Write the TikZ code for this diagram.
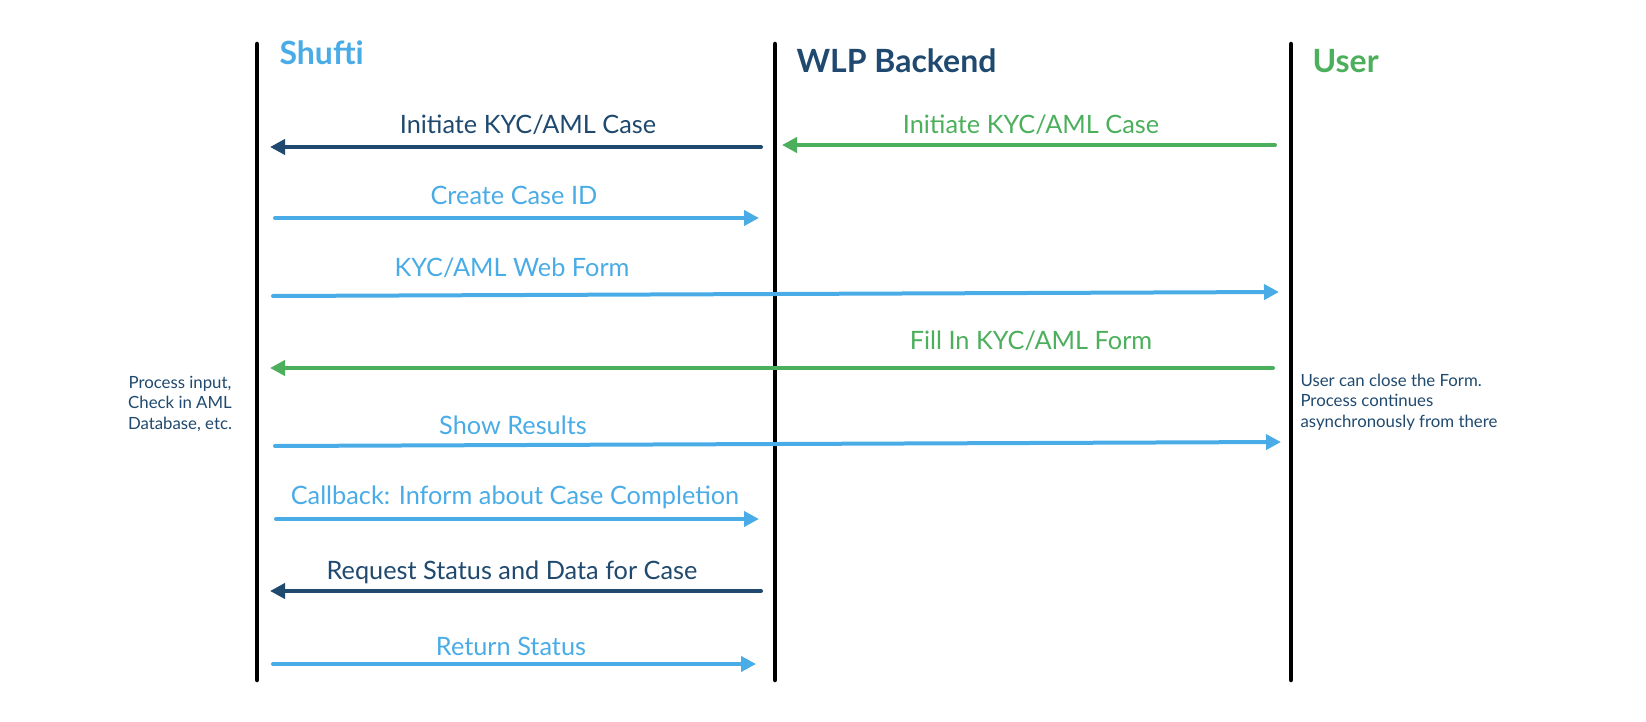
\documentclass[tikz,border=0pt]{standalone}
\usepackage{fontspec}
\setmainfont{Lato}
\usetikzlibrary{arrows.meta}
\definecolor{navy}{RGB}{31,73,110}
\definecolor{sky}{RGB}{74,172,230}
\definecolor{leaf}{RGB}{76,175,92}

\begin{document}
\begin{tikzpicture}[x=1pt, y=-1pt,
  lifeline/.style={line width=4.5pt, line cap=round},
  msg/.style={-{Triangle[length=15pt,width=15pt]}, line width=4pt, line cap=round},
  msglabel/.style={font=\fontsize{25.3}{29}\selectfont},
  header/.style={anchor=west, font=\fontsize{32}{36}\selectfont\bfseries},
  note/.style={text=navy, font=\fontsize{16.8}{20.5}\selectfont}]
\path[use as bounding box] (0,0) rectangle (1646,722);
% lifelines
\coordinate (shuftiTop) at (257,44);
\coordinate (shuftiEnd) at (257,680);
\coordinate (wlpTop) at (775,44);
\coordinate (wlpEnd) at (775,680);
\coordinate (userTop) at (1291,44);
\coordinate (userEnd) at (1291,680);
\draw[lifeline] (shuftiTop) -- (shuftiEnd);
\draw[lifeline] (wlpTop) -- (wlpEnd);
\draw[lifeline] (userTop) -- (userEnd);
\node[header, text=sky] (shufti) at (276,53) {Shufti};
\node[header, text=navy] (wlp) at (793,61) {WLP Backend};
\node[header, text=leaf] (user) at (1309,61) {User};
% message end points
\coordinate (a1) at (761,147);  \coordinate (b1) at (270,147);
\coordinate (a2) at (1275,145); \coordinate (b2) at (782,145);
\coordinate (a3) at (275,218);  \coordinate (b3) at (759,218);
\coordinate (a4) at (273,296);  \coordinate (b4) at (1279,292);
\coordinate (a5) at (1273,368); \coordinate (b5) at (270,368);
\coordinate (a6) at (275,446);  \coordinate (b6) at (1281,442);
\coordinate (a7) at (276,519);  \coordinate (b7) at (759,519);
\coordinate (a8) at (761,591);  \coordinate (b8) at (270,591);
\coordinate (a9) at (273,664);  \coordinate (b9) at (756,664);
% messages
\draw[msg, navy] (a1) -- (b1);
\draw[msg, leaf] (a2) -- (b2);
\draw[msg, sky] (a3) -- (b3);
\draw[msg, sky] (a4) -- (b4);
\draw[msg, leaf] (a5) -- (b5);
\draw[msg, sky] (a6) -- (b6);
\draw[msg, sky] (a7) -- (b7);
\draw[msg, navy] (a8) -- (b8);
\draw[msg, sky] (a9) -- (b9);
\node[msglabel, text=navy] (l1) at (528,125) {Initiate KYC/AML Case};
\node[msglabel, text=leaf] (l2) at (1031,125) {Initiate KYC/AML Case};
\node[msglabel, text=sky] (l3) at (514,195) {Create Case ID};
\node[msglabel, text=sky] (l4) at (512,268) {KYC/AML Web Form};
\node[msglabel, text=leaf] (l5) at (1031,341) {Fill In KYC/AML Form};
\node[msglabel, text=sky] (l6) at (513,425) {Show Results};
\node[msglabel, text=sky] (l7) at (515,497) {Callback: Inform about Case Completion};
\node[msglabel, text=navy] (l8) at (512,572) {Request Status and Data for Case};
\node[msglabel, text=sky] (l9) at (511,646) {Return Status};
% side notes
\node[note, align=center] (process) at (180,404) {Process input,\\Check in AML\\Database, etc.};
\node[note, align=left, anchor=west] (async) at (1297,402) {User can close the Form.\\Process continues\\asynchronously from there};
\end{tikzpicture}
\end{document}
